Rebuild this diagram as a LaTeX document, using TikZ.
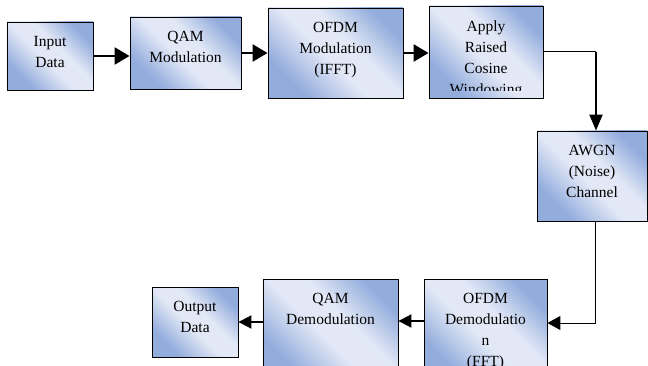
\documentclass[tikz,border=0pt]{standalone}
\usepackage{fontspec}
\setmainfont{Liberation Serif}
\usepackage{tikz}
\usetikzlibrary{arrows.meta}
\usetikzlibrary{calc}

\definecolor{blkdark}{RGB}{146,172,220}
\definecolor{blklight}{RGB}{226,232,246}
\pgfdeclarehorizontalshading{blockshade}{100bp}{color(0bp)=(blkdark); color(27bp)=(blkdark); color(46bp)=(blklight); color(58bp)=(blklight); color(75bp)=(blkdark); color(100bp)=(blkdark)}

\begin{document}
\begin{tikzpicture}[x=1pt, y=-1pt,
        block_style/.style={draw=black, line width=0.9pt, shading=blockshade, shading angle=45, inner sep=0pt},
        text_style/.style={align=center, anchor=north, inner sep=0pt, font=\fontsize{15.5}{21}\selectfont},
        big_arrow_style/.style={draw=black, line width=2.6pt, -{Triangle[length=15pt,width=17pt]}},
        down_arrow_style/.style={draw=black, line width=2pt, -{Triangle[length=16pt,width=13pt]}},
        small_arrow_style/.style={draw=black, line width=2pt, -{Triangle[length=13pt,width=13pt]}},
        thin_style/.style={draw=black, line width=1pt}]

        \useasboundingbox (0,0) rectangle (648,366);
        \clip (0,0) rectangle (648,366);

        % blocks
        \node [block_style, minimum width=86pt, minimum height=68pt] (in) at (50,56) {};
        \node [block_style, minimum width=111pt, minimum height=72pt] (qam) at (185.5,53) {};
        \node [block_style, minimum width=135pt, minimum height=90pt] (ofdm) at (335.5,53) {};
        \node [block_style, minimum width=114pt, minimum height=92pt] (win) at (486,52) {};
        \node [block_style, minimum width=110pt, minimum height=90pt] (awgn) at (592,176) {};
        \node [block_style, minimum width=123pt, minimum height=101pt] (ofdmd) at (485.5,329.5) {};
        \node [block_style, minimum width=135pt, minimum height=101pt] (qamd) at (330.5,329.5) {};
        \node [block_style, minimum width=86pt, minimum height=70pt] (out) at (195,322) {};

        % texts
        \node [text_style] (in_text) at ([yshift=-14.5pt]in.north) {Input\\Data};
        \node [text_style] (qam_text) at ([yshift=-14.5pt]qam.north) {QAM\\Modulation};
        \node [text_style] (ofdm_text) at ([yshift=-14.5pt]ofdm.north) {OFDM\\Modulation\\(IFFT)};
        \begin{scope}
            \clip ([yshift=8pt]win.south west) rectangle (win.north east);
            \node [text_style] (win_text) at ([yshift=-14.5pt]win.north) {Apply\\Raised\\Cosine\\Windowing};
        \end{scope}
        \node [text_style] (awgn_text) at ([yshift=-14.5pt]awgn.north) {AWGN\\(Noise)\\Channel};
        \node [text_style] (ofdmd_text) at ([yshift=-14.5pt]ofdmd.north) {OFDM\\Demodulatio\\n\\(FFT)};
        \node [text_style] (qamd_text) at ([yshift=-14.5pt]qamd.north) {QAM\\Demodulation};
        \node [text_style] (out_text) at ([yshift=-14.5pt]out.north) {Output\\Data};

        % connectors
        \coordinate (awgn_in) at ([xshift=4pt]awgn.north);
        \coordinate (top_turn) at (awgn_in |- win.east);
        \coordinate (awgn_out) at ([xshift=3pt]awgn.south);
        \coordinate (ofdmd_in) at ([yshift=6.5pt]ofdmd.east);
        \coordinate (ofdmd_out) at ([yshift=8.5pt]ofdmd.west);
        \coordinate (qamd_in) at (ofdmd_out -| qamd.east);
        \coordinate (qamd_out) at (out.east -| qamd.west);

        \draw [big_arrow_style] (in.east) -- (in.east -| qam.west);
        \draw [big_arrow_style] (qam.east) -- (qam.east -| ofdm.west);
        \draw [big_arrow_style] (ofdm.east) -- (ofdm.east -| win.west);
        \draw [thin_style] (win.east) -- (top_turn);
        \draw [down_arrow_style] (top_turn) -- (awgn_in);
        \draw [thin_style, -{Triangle[length=13pt,width=14pt]}] (awgn_out) |- (ofdmd_in);
        \draw [small_arrow_style] (ofdmd_out) -- (qamd_in);
        \draw [small_arrow_style] (qamd_out) -- (out.east);
\end{tikzpicture}
\end{document}
